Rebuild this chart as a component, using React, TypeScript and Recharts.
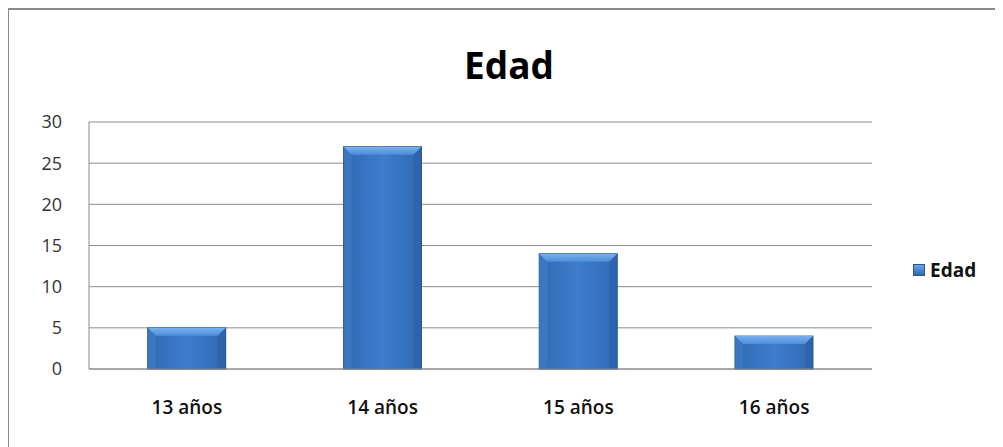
import React from 'react';
import { BarChart, Bar, XAxis, YAxis, CartesianGrid, Legend } from 'recharts';

const categories = ['13 años', '14 años', '15 años', '16 años'];
const edadValues = [5, 27, 14, 4];
const yTicks = [0, 5, 10, 15, 20, 25, 30];
const seriesName = 'Edad';

const data = categories.map((name, i) => ({ name, Edad: edadValues[i] }));

const FONT = '"Open Sans", "Noto Sans", sans-serif';

// bar with an Office-style bevel
function BevelBar(props: any) {
  const { x, y, width, height } = props;
  if (!height || height <= 0) return null;
  const b = Math.min(8, height / 3, width / 6);
  return (
    <g>
      <rect x={x} y={y} width={width} height={height} fill="url(#barBody)" stroke="#2a5792" strokeWidth={1} />
      <polygon
        points={`${x},${y} ${x + width},${y} ${x + width - b},${y + b} ${x + b},${y + b}`}
        fill="url(#barTop)"
      />
      <polygon
        points={`${x},${y} ${x + b},${y + b} ${x + b},${y + height - 2} ${x},${y + height}`}
        fill="#4a86d2"
        opacity={0.45}
      />
      <polygon
        points={`${x + width},${y} ${x + width - b},${y + b} ${x + width - b},${y + height - 2} ${x + width},${y + height}`}
        fill="#2a5c9f"
        opacity={0.45}
      />
    </g>
  );
}

function LegendContent(props: any) {
  const item = props.payload && props.payload[0];
  return (
    <div
      style={{
        paddingLeft: 41,
        display: 'flex',
        alignItems: 'center',
        height: 24,
        whiteSpace: 'nowrap',
        fontFamily: FONT
      }}
    >
      <span
        style={{
          display: 'inline-block',
          flexShrink: 0,
          width: 10,
          height: 10,
          background: 'linear-gradient(#6aa5e8, #2f68b2)',
          border: '1px solid #2a5792',
          marginRight: 5
        }}
      />
      <span style={{ flexShrink: 0, fontSize: 19, fontWeight: 700, color: '#111' }}>
        {item ? item.value : seriesName}
      </span>
    </div>
  );
}

export default function App() {
  return (
    <div
      style={{
        position: 'relative',
        width: 993,
        height: 437,
        borderTop: '2px solid #8a8a8a',
        borderLeft: '2px solid #8a8a8a',
        marginLeft: -1,
        overflow: 'hidden',
        background: '#fff'
      }}
    >
      <div
        style={{
          position: 'absolute',
          top: 36,
          left: 0,
          width: '100%',
          paddingLeft: 7,
          boxSizing: 'border-box',
          textAlign: 'center',
          fontFamily: FONT,
          fontWeight: 700,
          fontSize: 37,
          lineHeight: '37px',
          color: '#000'
        }}
      >
        Edad
      </div>
      <BarChart
        width={993}
        height={437}
        data={data}
        margin={{ top: 112, right: 40, left: 20, bottom: 18 }}
        barCategoryGap="30%"
      >
        <defs>
          <linearGradient id="barBody" x1="0" y1="0" x2="1" y2="0">
            <stop offset="0%" stopColor="#3169b2" />
            <stop offset="50%" stopColor="#3d7dcd" />
            <stop offset="100%" stopColor="#3169b2" />
          </linearGradient>
          <linearGradient id="barTop" x1="0" y1="0" x2="0" y2="1">
            <stop offset="0%" stopColor="#78b1ec" />
            <stop offset="100%" stopColor="#4d8cda" />
          </linearGradient>
        </defs>
        <CartesianGrid vertical={false} stroke="#8c8c8c" />
        <XAxis
          dataKey="name"
          axisLine={{ stroke: '#8c8c8c' }}
          tickLine={false}
          tickSize={0}
          tickMargin={32}
          height={60}
          tick={{ fontFamily: FONT, fontSize: 19, fontWeight: 600, fill: '#111' }}
        />
        <YAxis
          domain={[0, 30]}
          ticks={yTicks}
          width={60}
          axisLine={{ stroke: '#8c8c8c' }}
          tickLine={false}
          tickSize={0}
          tickMargin={27}
          tick={{ fontFamily: FONT, fontSize: 18, fill: '#333' }}
        />
        <Legend
          layout="vertical"
          align="right"
          verticalAlign="middle"
          width={90}
          wrapperStyle={{ top: 248 }}
          content={<LegendContent />}
        />
        <Bar dataKey="Edad" name={seriesName} shape={<BevelBar />} isAnimationActive={false} />
      </BarChart>
    </div>
  );
}
